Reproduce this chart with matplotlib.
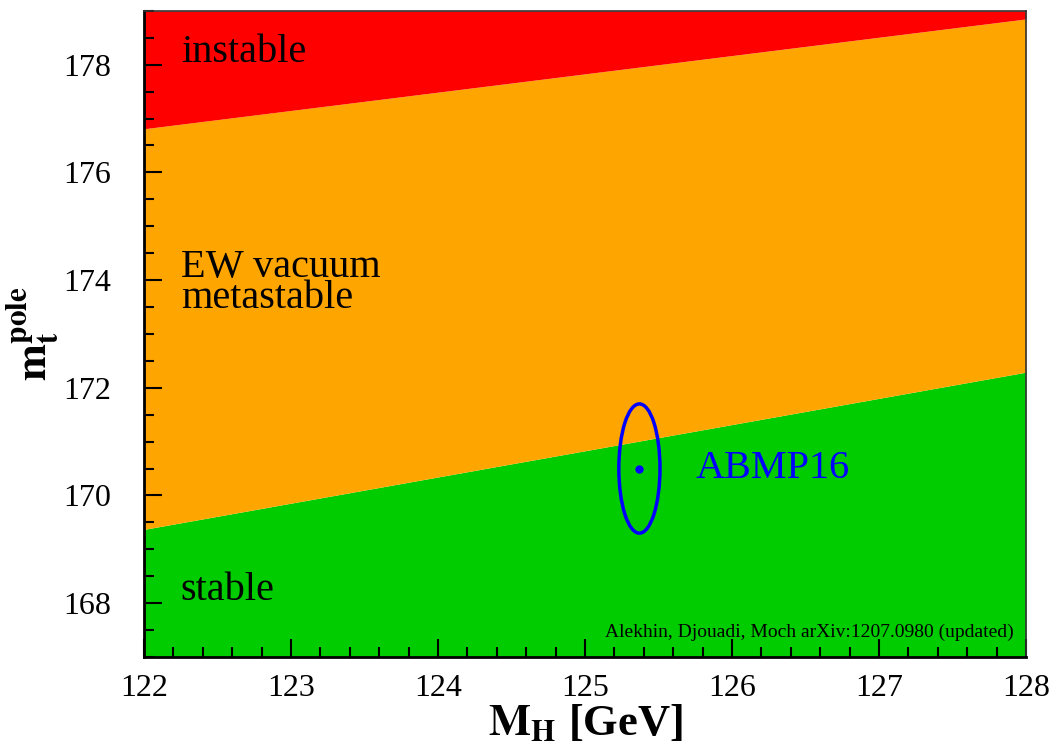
import matplotlib.pyplot as plt
import matplotlib.patches as mpatches
import numpy as np
from matplotlib.ticker import MultipleLocator

plt.rcParams['font.family'] = 'Liberation Serif'
plt.rcParams['mathtext.fontset'] = 'stix'

# boundary lines (m_t vs M_H) at the edges of the range
mh_edges = [122.0, 128.0]
mt_stable_edge = [169.37, 172.29]
mt_meta_edge = [176.81, 178.85]

# ABMP16 point and its error ellipse
mh_abmp = 125.37
mt_abmp = 170.5
mh_err = 0.14
mt_err = 1.2

ymin, ymax = 167.0, 179.0

fig = plt.figure(figsize=(10.56, 7.53), dpi=100)
ax = fig.add_axes([0.1364, 0.1275, 0.8352, 0.8581])

ax.fill_between(mh_edges, ymin, mt_stable_edge, color='#00cc00', lw=0)
ax.fill_between(mh_edges, mt_stable_edge, mt_meta_edge, color='#ffa500', lw=0)
ax.fill_between(mh_edges, mt_meta_edge, ymax, color='#ff0000', lw=0)

ell = mpatches.Ellipse((mh_abmp, mt_abmp), 2 * mh_err, 2 * mt_err,
                       fill=False, ec='#0000ff', lw=2.5)
ax.add_patch(ell)
ax.plot([mh_abmp], [mt_abmp], 'o', color='#0000ff', ms=5)

ax.text(125.75, 170.5, 'ABMP16', color='#0000ff', fontsize=29, va='center')
ax.text(122.25, 178.22, 'instable', fontsize=29, va='center')
ax.text(122.25, 173.94, 'EW vacuum\nmetastable', fontsize=29, va='center', linespacing=0.78)
ax.text(122.25, 168.24, 'stable', fontsize=29, va='center')
ax.text(127.92, 167.45, 'Alekhin, Djouadi, Moch arXiv:1207.0980 (updated)',
        fontsize=14, ha='right', va='center')

ax.set_xlim(122, 128)
ax.set_ylim(ymin, ymax)
ax.xaxis.set_major_locator(MultipleLocator(1))
ax.xaxis.set_minor_locator(MultipleLocator(0.2))
ax.yaxis.set_major_locator(MultipleLocator(2))
ax.yaxis.set_minor_locator(MultipleLocator(0.5))
ax.tick_params(which='both', direction='in', top=False, right=False, width=1.5)
ax.tick_params(which='major', length=13, labelsize=23)
ax.tick_params(which='minor', length=7)
ax.tick_params(axis='x', which='major', pad=12)
ax.tick_params(axis='y', which='major', pad=24)
for side in ['left', 'bottom']:
    ax.spines[side].set_linewidth(2)
for side in ['top', 'right']:
    ax.spines[side].set_linewidth(1.2)
    ax.spines[side].set_color('#333333')

ax.set_xlabel(r'$\mathbf{M_H}$ [GeV]', fontsize=32, fontweight='bold', labelpad=0)
ax.set_ylabel(r'$\mathbf{m_t^{pole}}$', fontsize=32, labelpad=2)

fig.savefig('out.png', dpi=100)
